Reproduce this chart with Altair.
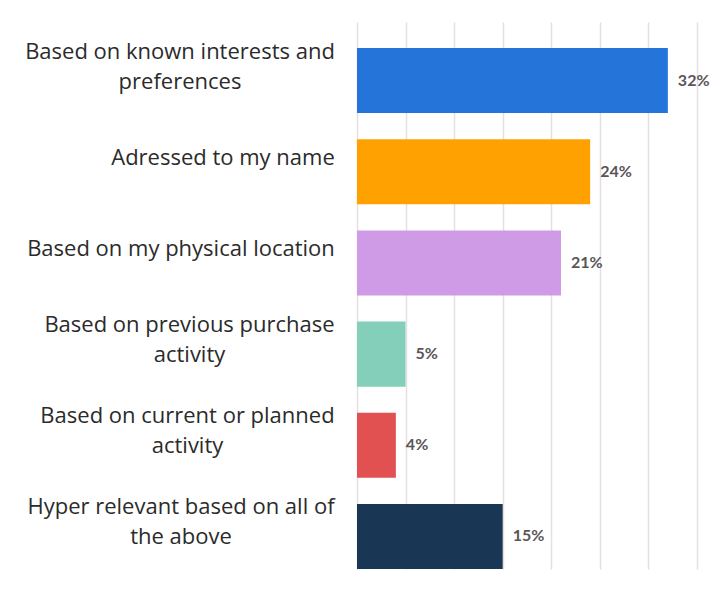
import altair as alt
import pandas as pd

# ---- data ----
categories = [
    "Based on known interests and|preferences",
    "Adressed to my name",
    "Based on my physical location",
    "Based on previous purchase|activity",
    "Based on current or planned|activity",
    "Hyper relevant based on all of|the above",
]
values = [32, 24, 21, 5, 4, 15]
colors = ["#2474DA", "#FFA100", "#D09BE6", "#84CFB9", "#E25151", "#1A3655"]
x_ticks = [0, 5, 10, 15, 20, 25, 30, 35]

# styling: approximate rendered first-line widths (px) used to centre multi-line label blocks
first_line_width = [309, 223, 307, 290, 294, 307]
right_gap = 23

pad_expr = ""
for cat, w in zip(categories, first_line_width):
    pad_expr += f"datum.value === '{cat}' ? {right_gap + w / 2} : "
pad_expr += str(right_gap)

offset_expr = "indexof(datum.value, '|') >= 0 ? -29 : -14"

df = pd.DataFrame({"category": categories, "value": values, "color": colors})
df["label"] = df["value"].astype(str) + "%"

y_enc = alt.Y(
    "category:N",
    sort=categories,
    scale=alt.Scale(paddingInner=0.287, paddingOuter=0.143, align=1),
    axis=alt.Axis(
        title=None,
        domain=False,
        ticks=False,
        labelExpr="split(datum.label, '|')",
        labelAlign="center",
        labelBaseline="middle",
        labelPadding=alt.ExprRef(pad_expr),
        labelOffset=alt.ExprRef(offset_expr),
        labelFont="Open Sans",
        labelFontSize=22,
        labelColor="#2b2b2b",
        labelLineHeight=30,
        labelLimit=0,
    ),
)

x_enc = alt.X(
    "value:Q",
    scale=alt.Scale(domain=[0, 35], nice=False),
    axis=alt.Axis(
        title=None,
        values=x_ticks,
        labels=False,
        ticks=False,
        domain=False,
        grid=True,
        gridColor="#e6dfe0",
        gridWidth=1.5,
    ),
)

base = alt.Chart(df)
bars = base.mark_bar().encode(
    y=y_enc,
    x=x_enc,
    color=alt.Color(
        "category:N",
        sort=categories,
        scale=alt.Scale(domain=categories, range=colors),
        legend=None,
    ),
)
text = base.mark_text(
    align="left",
    baseline="middle",
    dx=10,
    font="Lato",
    fontWeight="bold",
    fontSize=16,
    color="#5a5558",
).encode(y=alt.Y("category:N", sort=categories), x="value:Q", text="label:N")

chart = (
    (bars + text)
    .properties(
        width=340,
        height=547,
        padding={"left": 357, "top": 22, "right": 23, "bottom": 25},
        autosize=alt.AutoSizeParams(type="none"),
        background="white",
    )
    .configure_view(stroke=None)
)

chart.save("out.html", embed_options={"renderer": "svg", "actions": False})
